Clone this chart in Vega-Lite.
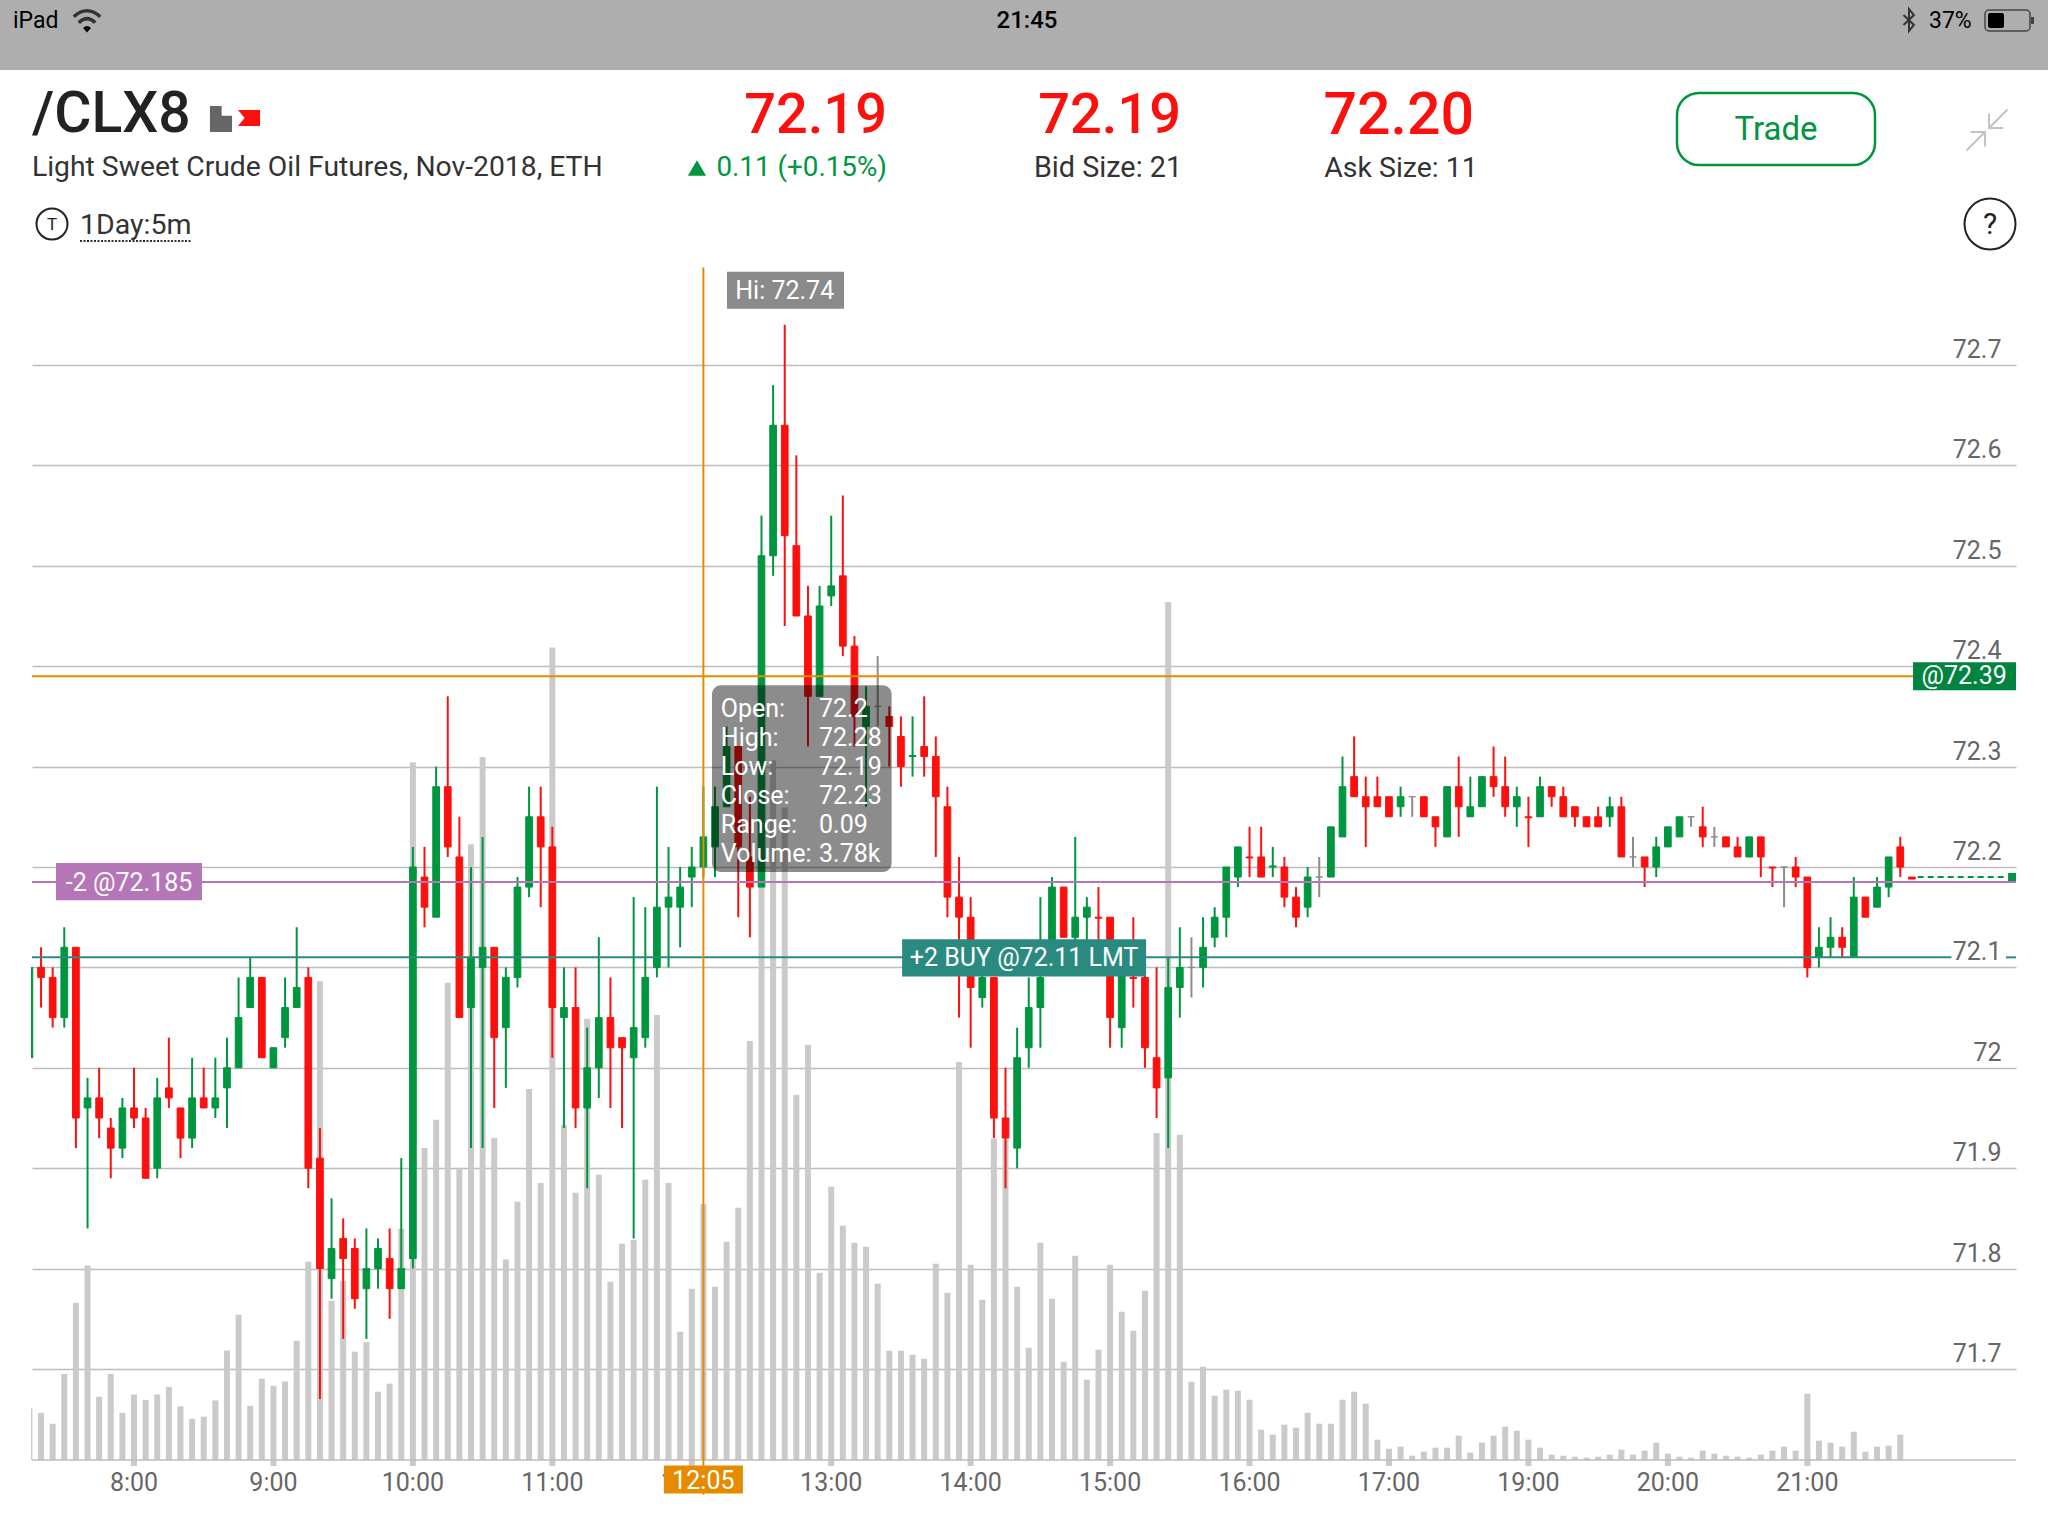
{
  "$schema": "https://vega.github.io/schema/vega-lite/v6.json",
  "description": "/CLX8 5 minute candlesticks with volume, 1 day, phone trading app screen",
  "width": 2048,
  "height": 1536,
  "padding": 0,
  "autosize": {"type": "none"},
  "background": "white",
  "config": {"font": "Roboto", "view": {"stroke": null}},
  "data": {"values": [{}]},
  "datasets": {
    "candles": [
      {"bar":-9,"open":72.01,"high":72.1,"low":72.01,"close":72.1,"volume":760},
      {"bar":-8,"open":72.1,"high":72.12,"low":72.06,"close":72.09,"volume":696},
      {"bar":-7,"open":72.09,"high":72.1,"low":72.04,"close":72.05,"volume":536},
      {"bar":-6,"open":72.05,"high":72.14,"low":72.04,"close":72.12,"volume":1272},
      {"bar":-5,"open":72.12,"high":72.12,"low":71.92,"close":71.95,"volume":2320},
      {"bar":-4,"open":71.96,"high":71.99,"low":71.84,"close":71.97,"volume":2872},
      {"bar":-3,"open":71.97,"high":72.0,"low":71.93,"close":71.95,"volume":936},
      {"bar":-2,"open":71.94,"high":71.95,"low":71.89,"close":71.92,"volume":1272},
      {"bar":-1,"open":71.92,"high":71.97,"low":71.91,"close":71.96,"volume":696},
      {"bar":0,"open":71.96,"high":72.0,"low":71.94,"close":71.95,"volume":968},
      {"bar":1,"open":71.95,"high":71.96,"low":71.89,"close":71.89,"volume":888},
      {"bar":2,"open":71.9,"high":71.99,"low":71.89,"close":71.97,"volume":968},
      {"bar":3,"open":71.98,"high":72.03,"low":71.96,"close":71.97,"volume":1080},
      {"bar":4,"open":71.96,"high":71.96,"low":71.91,"close":71.93,"volume":792},
      {"bar":5,"open":71.93,"high":72.01,"low":71.92,"close":71.97,"volume":608},
      {"bar":6,"open":71.97,"high":72.0,"low":71.96,"close":71.96,"volume":640},
      {"bar":7,"open":71.96,"high":72.01,"low":71.95,"close":71.97,"volume":880},
      {"bar":8,"open":71.98,"high":72.03,"low":71.94,"close":72.0,"volume":1616},
      {"bar":9,"open":72.0,"high":72.09,"low":72.0,"close":72.05,"volume":2144},
      {"bar":10,"open":72.06,"high":72.11,"low":72.06,"close":72.09,"volume":800},
      {"bar":11,"open":72.09,"high":72.09,"low":72.01,"close":72.01,"volume":1200},
      {"bar":12,"open":72.0,"high":72.02,"low":72.0,"close":72.02,"volume":1096},
      {"bar":13,"open":72.03,"high":72.09,"low":72.02,"close":72.06,"volume":1160},
      {"bar":14,"open":72.06,"high":72.14,"low":72.06,"close":72.08,"volume":1760},
      {"bar":15,"open":72.09,"high":72.1,"low":71.88,"close":71.9,"volume":2928},
      {"bar":16,"open":71.91,"high":71.94,"low":71.67,"close":71.8,"volume":7072},
      {"bar":17,"open":71.79,"high":71.87,"low":71.77,"close":71.82,"volume":2352},
      {"bar":18,"open":71.83,"high":71.85,"low":71.73,"close":71.81,"volume":2648},
      {"bar":19,"open":71.82,"high":71.83,"low":71.76,"close":71.77,"volume":1600},
      {"bar":20,"open":71.78,"high":71.84,"low":71.73,"close":71.8,"volume":1744},
      {"bar":21,"open":71.8,"high":71.83,"low":71.78,"close":71.82,"volume":1008},
      {"bar":22,"open":71.81,"high":71.84,"low":71.75,"close":71.78,"volume":1128},
      {"bar":23,"open":71.78,"high":71.91,"low":71.78,"close":71.8,"volume":3416},
      {"bar":24,"open":71.81,"high":72.22,"low":71.8,"close":72.2,"volume":10304},
      {"bar":25,"open":72.19,"high":72.22,"low":72.14,"close":72.16,"volume":4608},
      {"bar":26,"open":72.15,"high":72.3,"low":72.15,"close":72.28,"volume":5024},
      {"bar":27,"open":72.28,"high":72.37,"low":72.21,"close":72.22,"volume":7048},
      {"bar":28,"open":72.21,"high":72.25,"low":72.05,"close":72.05,"volume":4304},
      {"bar":29,"open":72.06,"high":72.2,"low":71.92,"close":72.11,"volume":9096},
      {"bar":30,"open":72.1,"high":72.23,"low":71.92,"close":72.12,"volume":10384},
      {"bar":31,"open":72.12,"high":72.12,"low":71.96,"close":72.03,"volume":4760},
      {"bar":32,"open":72.04,"high":72.1,"low":71.98,"close":72.09,"volume":2960},
      {"bar":33,"open":72.09,"high":72.19,"low":72.08,"close":72.18,"volume":3816},
      {"bar":34,"open":72.18,"high":72.28,"low":72.17,"close":72.25,"volume":5481},
      {"bar":35,"open":72.25,"high":72.28,"low":72.16,"close":72.22,"volume":4093},
      {"bar":36,"open":72.22,"high":72.24,"low":72.01,"close":72.06,"volume":12000},
      {"bar":37,"open":72.05,"high":72.1,"low":71.94,"close":72.06,"volume":4950},
      {"bar":38,"open":72.06,"high":72.1,"low":71.94,"close":71.96,"volume":3946},
      {"bar":39,"open":71.96,"high":72.04,"low":71.88,"close":72.0,"volume":6514},
      {"bar":40,"open":72.0,"high":72.13,"low":71.97,"close":72.05,"volume":4212},
      {"bar":41,"open":72.05,"high":72.09,"low":71.96,"close":72.02,"volume":2632},
      {"bar":42,"open":72.03,"high":72.03,"low":71.94,"close":72.02,"volume":3193},
      {"bar":43,"open":72.01,"high":72.17,"low":71.83,"close":72.04,"volume":3252},
      {"bar":44,"open":72.03,"high":72.16,"low":72.02,"close":72.09,"volume":4138},
      {"bar":45,"open":72.1,"high":72.28,"low":72.09,"close":72.16,"volume":6573},
      {"bar":46,"open":72.16,"high":72.22,"low":72.1,"close":72.17,"volume":4093},
      {"bar":47,"open":72.16,"high":72.2,"low":72.12,"close":72.18,"volume":1894},
      {"bar":48,"open":72.19,"high":72.22,"low":72.16,"close":72.2,"volume":2529},
      {"bar":49,"open":72.2,"high":72.28,"low":72.19,"close":72.23,"volume":3780},
      {"bar":50,"open":72.22,"high":72.28,"low":72.19,"close":72.26,"volume":2558},
      {"bar":51,"open":72.26,"high":72.34,"low":72.26,"close":72.32,"volume":3223},
      {"bar":52,"open":72.32,"high":72.32,"low":72.15,"close":72.22,"volume":3724},
      {"bar":53,"open":72.21,"high":72.27,"low":72.13,"close":72.18,"volume":6189},
      {"bar":54,"open":72.18,"high":72.55,"low":72.18,"close":72.51,"volume":8800},
      {"bar":55,"open":72.51,"high":72.68,"low":72.49,"close":72.64,"volume":10336},
      {"bar":56,"open":72.64,"high":72.74,"low":72.44,"close":72.53,"volume":9636},
      {"bar":57,"open":72.52,"high":72.61,"low":72.45,"close":72.45,"volume":5392},
      {"bar":58,"open":72.45,"high":72.48,"low":72.32,"close":72.37,"volume":6130},
      {"bar":59,"open":72.37,"high":72.48,"low":72.37,"close":72.46,"volume":2765},
      {"bar":60,"open":72.47,"high":72.55,"low":72.46,"close":72.48,"volume":4034},
      {"bar":61,"open":72.49,"high":72.57,"low":72.41,"close":72.42,"volume":3459},
      {"bar":62,"open":72.42,"high":72.43,"low":72.32,"close":72.35,"volume":3208},
      {"bar":63,"open":72.34,"high":72.38,"low":72.26,"close":72.36,"volume":3149},
      {"bar":64,"open":72.36,"high":72.41,"low":72.34,"close":72.36,"volume":2603},
      {"bar":65,"open":72.35,"high":72.36,"low":72.3,"close":72.34,"volume":1614},
      {"bar":66,"open":72.33,"high":72.35,"low":72.28,"close":72.3,"volume":1614},
      {"bar":67,"open":72.31,"high":72.35,"low":72.29,"close":72.311,"volume":1555},
      {"bar":68,"open":72.32,"high":72.37,"low":72.29,"close":72.31,"volume":1496},
      {"bar":69,"open":72.31,"high":72.33,"low":72.21,"close":72.27,"volume":2898},
      {"bar":70,"open":72.26,"high":72.28,"low":72.15,"close":72.17,"volume":2470},
      {"bar":71,"open":72.17,"high":72.21,"low":72.05,"close":72.15,"volume":5879},
      {"bar":72,"open":72.15,"high":72.17,"low":72.02,"close":72.08,"volume":2883},
      {"bar":73,"open":72.07,"high":72.1,"low":72.06,"close":72.09,"volume":2367},
      {"bar":74,"open":72.09,"high":72.09,"low":71.93,"close":71.95,"volume":4750},
      {"bar":75,"open":71.95,"high":72.0,"low":71.88,"close":71.93,"volume":4730},
      {"bar":76,"open":71.92,"high":72.04,"low":71.9,"close":72.01,"volume":2558},
      {"bar":77,"open":72.02,"high":72.09,"low":72.0,"close":72.06,"volume":1658},
      {"bar":78,"open":72.06,"high":72.17,"low":72.02,"close":72.09,"volume":3208},
      {"bar":79,"open":72.11,"high":72.19,"low":72.11,"close":72.18,"volume":2381},
      {"bar":80,"open":72.18,"high":72.18,"low":72.13,"close":72.13,"volume":1451},
      {"bar":81,"open":72.13,"high":72.23,"low":72.11,"close":72.15,"volume":3016},
      {"bar":82,"open":72.15,"high":72.17,"low":72.12,"close":72.16,"volume":1186},
      {"bar":83,"open":72.15,"high":72.18,"low":72.12,"close":72.149,"volume":1629},
      {"bar":84,"open":72.15,"high":72.15,"low":72.02,"close":72.05,"volume":2883},
      {"bar":85,"open":72.04,"high":72.11,"low":72.02,"close":72.1,"volume":2189},
      {"bar":86,"open":72.09,"high":72.15,"low":72.06,"close":72.089,"volume":1909},
      {"bar":87,"open":72.09,"high":72.11,"low":72.0,"close":72.02,"volume":2499},
      {"bar":88,"open":72.01,"high":72.1,"low":71.95,"close":71.98,"volume":4831},
      {"bar":89,"open":71.99,"high":72.11,"low":71.92,"close":72.08,"volume":12672},
      {"bar":90,"open":72.08,"high":72.14,"low":72.05,"close":72.1,"volume":4802},
      {"bar":91,"open":72.1,"high":72.13,"low":72.07,"close":72.1,"volume":1156},
      {"bar":92,"open":72.1,"high":72.15,"low":72.08,"close":72.12,"volume":1378},
      {"bar":93,"open":72.13,"high":72.16,"low":72.12,"close":72.15,"volume":950},
      {"bar":94,"open":72.15,"high":72.2,"low":72.13,"close":72.2,"volume":1038},
      {"bar":95,"open":72.19,"high":72.22,"low":72.18,"close":72.22,"volume":1023},
      {"bar":96,"open":72.21,"high":72.24,"low":72.19,"close":72.209,"volume":890},
      {"bar":97,"open":72.21,"high":72.24,"low":72.19,"close":72.19,"volume":448},
      {"bar":98,"open":72.2,"high":72.22,"low":72.19,"close":72.201,"volume":374},
      {"bar":99,"open":72.2,"high":72.21,"low":72.16,"close":72.17,"volume":522},
      {"bar":100,"open":72.17,"high":72.18,"low":72.14,"close":72.15,"volume":477},
      {"bar":101,"open":72.16,"high":72.2,"low":72.15,"close":72.19,"volume":699},
      {"bar":102,"open":72.19,"high":72.21,"low":72.17,"close":72.19,"volume":536},
      {"bar":103,"open":72.19,"high":72.24,"low":72.19,"close":72.24,"volume":536},
      {"bar":104,"open":72.23,"high":72.31,"low":72.23,"close":72.28,"volume":890},
      {"bar":105,"open":72.29,"high":72.33,"low":72.27,"close":72.27,"volume":1009},
      {"bar":106,"open":72.27,"high":72.29,"low":72.22,"close":72.26,"volume":831},
      {"bar":107,"open":72.27,"high":72.29,"low":72.26,"close":72.26,"volume":300},
      {"bar":108,"open":72.27,"high":72.27,"low":72.25,"close":72.25,"volume":167},
      {"bar":109,"open":72.26,"high":72.28,"low":72.25,"close":72.27,"volume":197},
      {"bar":110,"open":72.27,"high":72.27,"low":72.25,"close":72.27,"volume":64},
      {"bar":111,"open":72.27,"high":72.27,"low":72.25,"close":72.25,"volume":123},
      {"bar":112,"open":72.25,"high":72.25,"low":72.22,"close":72.24,"volume":182},
      {"bar":113,"open":72.23,"high":72.28,"low":72.23,"close":72.28,"volume":182},
      {"bar":114,"open":72.28,"high":72.31,"low":72.23,"close":72.26,"volume":359},
      {"bar":115,"open":72.25,"high":72.29,"low":72.25,"close":72.26,"volume":108},
      {"bar":116,"open":72.26,"high":72.29,"low":72.26,"close":72.29,"volume":256},
      {"bar":117,"open":72.29,"high":72.32,"low":72.27,"close":72.28,"volume":359},
      {"bar":118,"open":72.28,"high":72.31,"low":72.25,"close":72.26,"volume":492},
      {"bar":119,"open":72.26,"high":72.28,"low":72.24,"close":72.27,"volume":433},
      {"bar":120,"open":72.25,"high":72.27,"low":72.22,"close":72.249,"volume":300},
      {"bar":121,"open":72.25,"high":72.29,"low":72.25,"close":72.28,"volume":182},
      {"bar":122,"open":72.28,"high":72.28,"low":72.26,"close":72.27,"volume":79},
      {"bar":123,"open":72.27,"high":72.28,"low":72.25,"close":72.25,"volume":64},
      {"bar":124,"open":72.26,"high":72.26,"low":72.24,"close":72.25,"volume":49},
      {"bar":125,"open":72.25,"high":72.25,"low":72.24,"close":72.24,"volume":34},
      {"bar":126,"open":72.25,"high":72.26,"low":72.24,"close":72.24,"volume":49},
      {"bar":127,"open":72.25,"high":72.27,"low":72.24,"close":72.26,"volume":79},
      {"bar":128,"open":72.26,"high":72.27,"low":72.21,"close":72.21,"volume":153},
      {"bar":129,"open":72.21,"high":72.23,"low":72.2,"close":72.21,"volume":79},
      {"bar":130,"open":72.21,"high":72.21,"low":72.18,"close":72.2,"volume":138},
      {"bar":131,"open":72.2,"high":72.23,"low":72.19,"close":72.22,"volume":256},
      {"bar":132,"open":72.22,"high":72.24,"low":72.22,"close":72.24,"volume":93},
      {"bar":133,"open":72.23,"high":72.25,"low":72.23,"close":72.25,"volume":49},
      {"bar":134,"open":72.25,"high":72.25,"low":72.24,"close":72.25,"volume":34},
      {"bar":135,"open":72.24,"high":72.26,"low":72.22,"close":72.23,"volume":138},
      {"bar":136,"open":72.23,"high":72.24,"low":72.22,"close":72.23,"volume":93},
      {"bar":137,"open":72.23,"high":72.23,"low":72.22,"close":72.22,"volume":64},
      {"bar":138,"open":72.22,"high":72.23,"low":72.21,"close":72.21,"volume":49},
      {"bar":139,"open":72.21,"high":72.23,"low":72.21,"close":72.23,"volume":34},
      {"bar":140,"open":72.23,"high":72.23,"low":72.19,"close":72.21,"volume":79},
      {"bar":141,"open":72.2,"high":72.2,"low":72.18,"close":72.199,"volume":138},
      {"bar":142,"open":72.2,"high":72.2,"low":72.16,"close":72.2,"volume":197},
      {"bar":143,"open":72.2,"high":72.21,"low":72.18,"close":72.19,"volume":138},
      {"bar":144,"open":72.19,"high":72.19,"low":72.09,"close":72.1,"volume":979},
      {"bar":145,"open":72.11,"high":72.14,"low":72.1,"close":72.12,"volume":285},
      {"bar":146,"open":72.12,"high":72.15,"low":72.11,"close":72.13,"volume":256},
      {"bar":147,"open":72.13,"high":72.14,"low":72.11,"close":72.12,"volume":197},
      {"bar":148,"open":72.11,"high":72.19,"low":72.11,"close":72.17,"volume":418},
      {"bar":149,"open":72.17,"high":72.17,"low":72.15,"close":72.15,"volume":123},
      {"bar":150,"open":72.16,"high":72.19,"low":72.16,"close":72.18,"volume":197},
      {"bar":151,"open":72.18,"high":72.21,"low":72.17,"close":72.21,"volume":212},
      {"bar":152,"open":72.22,"high":72.23,"low":72.19,"close":72.2,"volume":374},
      {"bar":153,"open":72.19,"high":72.19,"low":72.188,"close":72.188,"volume":0}
    ],
    "hours": [
      {"bar":0,"label":"8:00"},{"bar":12,"label":"9:00"},{"bar":24,"label":"10:00"},{"bar":36,"label":"11:00"},
      {"bar":48,"label":"12:00"},{"bar":60,"label":"13:00"},{"bar":72,"label":"14:00"},{"bar":84,"label":"15:00"},
      {"bar":96,"label":"16:00"},{"bar":108,"label":"17:00"},{"bar":120,"label":"19:00"},{"bar":132,"label":"20:00"},{"bar":144,"label":"21:00"}
    ]
  },
  "resolve": {"scale": {"y": "independent"}},
  "layer": [
    {
      "data": {"name": "candles"},
      "mark": {"type": "bar", "orient": "vertical", "size": 6, "color": "#cacaca"},
      "encoding": {
        "x": {
          "field": "bar",
          "type": "quantitative",
          "scale": {"domain": [-8.778, 161.96], "range": [32, 2016], "nice": false, "zero": false, "padding": 0},
          "axis": null
        },
        "y": {
          "field": "volume",
          "type": "quantitative",
          "stack": null,
          "scale": {"domain": [0, 15000], "range": [1460, 444.4], "nice": false},
          "axis": null
        }
      }
    },
    {
      "layer": [
        {
          "data": {"name": "hours"},
          "mark": {"type": "rule", "color": "#cacaca", "strokeWidth": 6},
          "encoding": {
            "x": {"field": "bar", "type": "quantitative", "axis": null},
            "y": {"datum": 71.6094},
            "y2": {"datum": 71.6034}
          }
        },
        {
          "data": {"name": "hours"},
          "mark": {"type": "text", "fontSize": 25, "color": "#666666"},
          "encoding": {
            "x": {"field": "bar", "type": "quantitative", "axis": null},
            "y": {"datum": 71.5863},
            "text": {"field": "label"}
          }
        },
        {
          "mark": {"type": "rule", "color": "#bdbdbd", "strokeWidth": 1.5},
          "encoding": {"x": {"datum": -8.778, "axis": null}, "x2": {"datum": 161.96}, "y": {"datum": 71.6094}}
        },
        {
          "data": {"name": "candles"},
          "mark": {"type": "rule", "strokeWidth": 2},
          "encoding": {
            "x": {"field": "bar", "type": "quantitative", "axis": null},
            "y": {
              "field": "low",
              "type": "quantitative",
              "scale": {"domain": [71.7, 72.7], "range": [1369, 365], "nice": false, "zero": false},
              "axis": {
                "title": null,
                "orient": "right",
                "offset": -32,
                "values": [71.7, 71.8, 71.9, 72, 72.1, 72.2, 72.3, 72.4, 72.5, 72.6, 72.7],
                "format": ".1~f",
                "grid": true,
                "gridColor": "#bdbdbd",
                "gridWidth": 1.5,
                "domain": false,
                "ticks": false,
                "labelFontSize": 25,
                "labelColor": "#666666",
                "labelAlign": "right",
                "labelBaseline": "middle",
                "labelPadding": -15,
                "labelOffset": -15.5,
                "labelOverlap": false,
                "labelFlush": false
              }
            },
            "y2": {"field": "high"},
            "stroke": {
              "condition": [
                {"test": "datum.close > datum.open", "value": "#00963f"},
                {"test": "datum.close < datum.open", "value": "#fc100d"}
              ],
              "value": "#8c8c8c"
            }
          }
        },
        {
          "data": {"name": "candles"},
          "mark": {"type": "bar", "orient": "vertical", "size": 6.7, "strokeWidth": 1},
          "encoding": {
            "x": {"field": "bar", "type": "quantitative", "axis": null},
            "y": {"field": "open", "type": "quantitative"},
            "y2": {"field": "close"},
            "fill": {
              "condition": [
                {"test": "datum.close > datum.open", "value": "#00963f"},
                {"test": "datum.close < datum.open", "value": "#fc100d"}
              ],
              "value": "#8c8c8c"
            },
            "stroke": {
              "condition": [
                {"test": "datum.close > datum.open", "value": "#00963f"},
                {"test": "datum.close < datum.open", "value": "#fc100d"}
              ],
              "value": "#8c8c8c"
            }
          }
        },
        {
          "mark": {"type": "rect", "color": "white"},
          "encoding": {"x": {"value": 0}, "x2": {"value": 31}, "y": {"value": 600}, "y2": {"value": 1470}}
        },
        {
          "mark": {"type": "rule", "color": "#2a8a80", "strokeWidth": 2},
          "encoding": {"x": {"datum": -8.778, "axis": null}, "x2": {"datum": 156.4}, "y": {"datum": 72.11}}
        },
        {
          "mark": {"type": "rule", "color": "#2a8a80", "strokeWidth": 2},
          "encoding": {"x": {"datum": 161.1, "axis": null}, "x2": {"datum": 161.96}, "y": {"datum": 72.11}}
        },
        {
          "mark": {"type": "rule", "color": "#b576b8", "strokeWidth": 2},
          "encoding": {"x": {"datum": -8.778, "axis": null}, "x2": {"datum": 161.96}, "y": {"datum": 72.185}}
        },
        {
          "mark": {"type": "rule", "color": "#e68a00", "strokeWidth": 2},
          "encoding": {"x": {"datum": -8.778, "axis": null}, "x2": {"datum": 161.96}, "y": {"datum": 72.39}}
        },
        {
          "mark": {"type": "rule", "color": "#e68a00", "strokeWidth": 2},
          "encoding": {"x": {"datum": 49, "axis": null}, "y": {"datum": 72.797}, "y2": {"datum": 71.575}}
        },
        {
          "mark": {"type": "rule", "color": "#00963f", "strokeWidth": 2, "strokeDash": [6, 4]},
          "encoding": {"x": {"datum": 153.5, "axis": null}, "x2": {"datum": 161.2}, "y": {"datum": 72.19}}
        },
        {
          "mark": {"type": "rect", "color": "#00963f"},
          "encoding": {"x": {"datum": 161.28, "axis": null}, "x2": {"datum": 161.96}, "y": {"datum": 72.194}, "y2": {"datum": 72.186}}
        },
        {
          "mark": {"type": "rect", "color": "#b576b8"},
          "encoding": {"x": {"datum": -6.71, "axis": null}, "x2": {"datum": 5.85}, "y": {"datum": 72.204}, "y2": {"datum": 72.167}}
        },
        {
          "mark": {"type": "text", "color": "white", "fontSize": 25, "dy": 1},
          "encoding": {"x": {"datum": -0.43, "axis": null}, "y": {"datum": 72.185}, "text": {"value": "-2 @72.185"}}
        },
        {
          "mark": {"type": "rect", "color": "#2a8a80"},
          "encoding": {"x": {"datum": 66.1, "axis": null}, "x2": {"datum": 87.1}, "y": {"datum": 72.128}, "y2": {"datum": 72.091}}
        },
        {
          "mark": {"type": "text", "color": "white", "fontSize": 25, "dy": 1},
          "encoding": {"x": {"datum": 76.6, "axis": null}, "y": {"datum": 72.11}, "text": {"value": "+2 BUY @72.11 LMT"}}
        },
        {
          "mark": {"type": "rect", "color": "#00843f"},
          "encoding": {"x": {"datum": 153.1, "axis": null}, "x2": {"datum": 161.96}, "y": {"datum": 72.404}, "y2": {"datum": 72.376}}
        },
        {
          "mark": {"type": "text", "color": "white", "fontSize": 25},
          "encoding": {"x": {"datum": 157.5, "axis": null}, "y": {"datum": 72.39}, "text": {"value": "@72.39"}}
        },
        {
          "mark": {"type": "rect", "color": "#8a8a8a"},
          "encoding": {"x": {"datum": 51.03, "axis": null}, "x2": {"datum": 61.1}, "y": {"datum": 72.793}, "y2": {"datum": 72.756}}
        },
        {
          "mark": {"type": "text", "color": "white", "fontSize": 25, "dy": 1},
          "encoding": {"x": {"datum": 56, "axis": null}, "y": {"datum": 72.775}, "text": {"value": "Hi: 72.74"}}
        },
        {
          "mark": {"type": "rect", "color": "#e68a00"},
          "encoding": {"x": {"datum": 45.6, "axis": null}, "x2": {"datum": 52.4}, "y": {"datum": 71.604}, "y2": {"datum": 71.576}}
        },
        {
          "mark": {"type": "text", "color": "white", "fontSize": 25, "dy": 3},
          "encoding": {"x": {"datum": 49, "axis": null}, "y": {"datum": 71.591}, "text": {"value": "12:05"}}
        },
        {
          "mark": {"type": "rect", "color": "black", "opacity": 0.45, "cornerRadius": 9},
          "encoding": {"x": {"datum": 49.74, "axis": null}, "x2": {"datum": 65.2}, "y": {"datum": 72.381}, "y2": {"datum": 72.195}}
        },
        {
          "mark": {"type": "text", "color": "white", "fontSize": 25, "align": "left", "baseline": "top", "lineHeight": 29},
          "encoding": {
            "x": {"datum": 50.5, "axis": null},
            "y": {"datum": 72.369},
            "text": {"value": ["Open:", "High:", "Low:", "Close:", "Range:", "Volume:"]}
          }
        },
        {
          "mark": {"type": "text", "color": "white", "fontSize": 25, "align": "left", "baseline": "top", "lineHeight": 29},
          "encoding": {
            "x": {"datum": 58.95, "axis": null},
            "y": {"datum": 72.369},
            "text": {"value": ["72.2", "72.28", "72.19", "72.23", "0.09", "3.78k"]}
          }
        }
      ]
    },
    {
      "mark": {"type": "rect", "color": "#aeaeae"},
      "encoding": {"x": {"value": 0}, "x2": {"value": 2048}, "y": {"value": 0}, "y2": {"value": 70}}
    },
    {
      "mark": {"type": "text", "align": "left", "fontSize": 23, "color": "black"},
      "encoding": {"x": {"value": 13}, "y": {"value": 21}, "text": {"value": "iPad"}}
    },
    {
      "mark": {"type": "point", "shape": "M-1 -.25 Q0 -1.15 1 -.25 M-.62 .2 Q0 -.4 .62 .2", "size": 700, "filled": false, "stroke": "black", "strokeWidth": 3.5},
      "encoding": {"x": {"value": 87}, "y": {"value": 20}}
    },
    {
      "mark": {"type": "point", "shape": "M-.3 .6 L0 .95 L.3 .6 Q0 .3 -.3 .6Z", "size": 700, "filled": true, "color": "black", "opacity": 1},
      "encoding": {"x": {"value": 87}, "y": {"value": 20}}
    },
    {
      "mark": {"type": "text", "align": "center", "fontSize": 24, "fontWeight": 500, "color": "black"},
      "encoding": {"x": {"value": 1027}, "y": {"value": 21}, "text": {"value": "21:45"}}
    },
    {
      "mark": {"type": "point", "shape": "M-.5 -.45 L.45 .45 L0 1 L0 -1 L.45 -.45 L-.5 .45", "size": 484, "filled": false, "stroke": "black", "strokeWidth": 2},
      "encoding": {"x": {"value": 1909}, "y": {"value": 20}}
    },
    {
      "mark": {"type": "text", "align": "left", "fontSize": 23, "color": "black"},
      "encoding": {"x": {"value": 1929}, "y": {"value": 21}, "text": {"value": "37%"}}
    },
    {
      "mark": {"type": "rect", "fill": "transparent", "stroke": "#444444", "strokeWidth": 1.5, "cornerRadius": 4},
      "encoding": {"x": {"value": 1985}, "x2": {"value": 2030}, "y": {"value": 10}, "y2": {"value": 31}}
    },
    {
      "mark": {"type": "rect", "color": "#444444"},
      "encoding": {"x": {"value": 2031}, "x2": {"value": 2034}, "y": {"value": 17}, "y2": {"value": 24}}
    },
    {
      "mark": {"type": "rect", "color": "black", "cornerRadius": 2},
      "encoding": {"x": {"value": 1988}, "x2": {"value": 2004}, "y": {"value": 13}, "y2": {"value": 28}}
    },
    {
      "mark": {"type": "text", "align": "left", "fontSize": 57, "fontWeight": 500, "color": "#222222"},
      "encoding": {"x": {"value": 32}, "y": {"value": 115}, "text": {"value": "/CLX8"}}
    },
    {
      "mark": {"type": "point", "shape": "M-.85 -1 H.05 V-.25 H.85 V1 H-.85Z", "size": 676, "filled": true, "color": "#666666", "opacity": 1},
      "encoding": {"x": {"value": 221}, "y": {"value": 119}}
    },
    {
      "mark": {"type": "point", "shape": "M-1 -.72 H1 V.72 H-1 L-.4 0Z", "size": 484, "filled": true, "color": "#fc100d", "opacity": 1},
      "encoding": {"x": {"value": 249}, "y": {"value": 118}}
    },
    {
      "mark": {"type": "text", "align": "left", "fontSize": 28.3, "color": "#333333"},
      "encoding": {"x": {"value": 32}, "y": {"value": 168}, "text": {"value": "Light Sweet Crude Oil Futures, Nov-2018, ETH"}}
    },
    {
      "mark": {"type": "text", "align": "right", "fontSize": 56, "fontWeight": 500, "color": "#fc100d"},
      "encoding": {"x": {"value": 887}, "y": {"value": 116}, "text": {"value": "72.19"}}
    },
    {
      "mark": {"type": "point", "shape": "triangle-up", "size": 330, "filled": true, "color": "#00963f", "opacity": 1},
      "encoding": {"x": {"value": 697}, "y": {"value": 168}}
    },
    {
      "mark": {"type": "text", "align": "right", "fontSize": 27.8, "color": "#00963f"},
      "encoding": {"x": {"value": 887}, "y": {"value": 168}, "text": {"value": "0.11 (+0.15%)"}}
    },
    {
      "mark": {"type": "text", "align": "right", "fontSize": 56, "fontWeight": 500, "color": "#fc100d"},
      "encoding": {"x": {"value": 1181}, "y": {"value": 116}, "text": {"value": "72.19"}}
    },
    {
      "mark": {"type": "text", "align": "center", "fontSize": 28.8, "color": "#333333"},
      "encoding": {"x": {"value": 1108}, "y": {"value": 168}, "text": {"value": "Bid Size: 21"}}
    },
    {
      "mark": {"type": "text", "align": "right", "fontSize": 59, "fontWeight": 500, "color": "#fc100d"},
      "encoding": {"x": {"value": 1474}, "y": {"value": 116}, "text": {"value": "72.20"}}
    },
    {
      "mark": {"type": "text", "align": "center", "fontSize": 28.5, "color": "#333333"},
      "encoding": {"x": {"value": 1401}, "y": {"value": 168}, "text": {"value": "Ask Size: 11"}}
    },
    {
      "mark": {"type": "rect", "fill": "transparent", "stroke": "#00963f", "strokeWidth": 2.5, "cornerRadius": 22},
      "encoding": {"x": {"value": 1677}, "x2": {"value": 1875}, "y": {"value": 93}, "y2": {"value": 165}}
    },
    {
      "mark": {"type": "text", "align": "center", "fontSize": 33, "color": "#00963f"},
      "encoding": {"x": {"value": 1776}, "y": {"value": 130}, "text": {"value": "Trade"}}
    },
    {
      "mark": {"type": "point", "shape": "M1 -1 L.1 -.1 M.1 -.8 V-.1 H.8 M-1 1 L-.1 .1 M-.8 .1 H-.1 V.8", "size": 1681, "filled": false, "stroke": "#aaaaaa", "strokeWidth": 2},
      "encoding": {"x": {"value": 1987}, "y": {"value": 130}}
    },
    {
      "mark": {"type": "point", "shape": "circle", "size": 961, "filled": false, "stroke": "#222222", "strokeWidth": 2, "opacity": 1},
      "encoding": {"x": {"value": 52}, "y": {"value": 224}}
    },
    {
      "mark": {"type": "text", "align": "center", "fontSize": 17, "color": "#222222"},
      "encoding": {"x": {"value": 52}, "y": {"value": 225}, "text": {"value": "T"}}
    },
    {
      "mark": {"type": "text", "align": "left", "fontSize": 28.5, "color": "#333333"},
      "encoding": {"x": {"value": 80}, "y": {"value": 225}, "text": {"value": "1Day:5m"}}
    },
    {
      "mark": {"type": "rule", "color": "#333333", "strokeWidth": 2, "strokeDash": [2, 1.5]},
      "encoding": {"x": {"value": 80}, "x2": {"value": 192}, "y": {"value": 241}}
    },
    {
      "mark": {"type": "point", "shape": "circle", "size": 2600, "filled": false, "stroke": "#222222", "strokeWidth": 2, "opacity": 1},
      "encoding": {"x": {"value": 1990}, "y": {"value": 224}}
    },
    {
      "mark": {"type": "text", "align": "center", "fontSize": 30, "color": "#222222"},
      "encoding": {"x": {"value": 1990}, "y": {"value": 225}, "text": {"value": "?"}}
    }
  ]
}
